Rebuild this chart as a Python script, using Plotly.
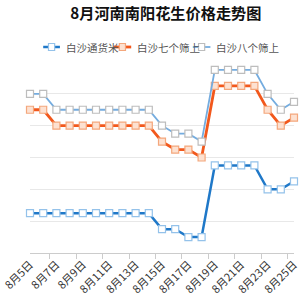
import plotly.graph_objects as go

dates = [f"8月{d}日" for d in range(5, 26)]

tonghuo = [3.85]*10 + [3.75, 3.75, 3.7, 3.7, 4.15, 4.15, 4.15, 4.15, 4.0, 4.0, 4.05]
qige = [4.5, 4.5] + [4.4]*8 + [4.3, 4.25, 4.25, 4.2, 4.65, 4.65, 4.65, 4.65, 4.5, 4.4, 4.45]
bage = [4.6, 4.6] + [4.5]*8 + [4.4, 4.35, 4.35, 4.3, 4.75, 4.75, 4.75, 4.75, 4.6, 4.5, 4.55]

names = ["白沙通货米", "白沙七个筛上", "白沙八个筛上"]
values = [tonghuo, qige, bage]
line_colors = ["#1f78c8", "#f2581c", "#74acdf"]
line_widths = [2.5, 2.8, 1.8]
marker_lines = ["#94c2ea", "#f4a77c", "#bdbdbd"]
marker_fills = ["#ffffff", "#fde1d1", "#ffffff"]

FONT = "Noto Sans CJK SC"
W, H = 300, 300
T, B = 62, 47
PH = H - T - B

fig = go.Figure()
for name, vals, lc, lw, mc, mf in zip(names, values, line_colors, line_widths, marker_lines, marker_fills):
    fig.add_trace(go.Scatter(
        x=dates, y=vals, name=name, mode="lines+markers",
        line=dict(color=lc, width=lw),
        marker=dict(symbol="square", size=7, color=mf,
                    line=dict(color=mc, width=1.2)),
        cliponaxis=False, showlegend=False,
    ))

# legend drawn like the original (short line + hollow square + label)
leg_y_px = 47
leg_items = [(15, 34, 39), (95, 115, 119), (185, 205, 209)]  # line x0, line x1, text x (px)
shapes = []
annotations = []
def py(px):
    return (H - B - px) / PH
for (lx0, lx1, tx), name, lc, lw, mc, mf in zip(leg_items, names, line_colors, line_widths, marker_lines, marker_fills):
    shapes.append(dict(type="line", xref="paper", yref="paper",
                       x0=lx0 / W, x1=lx1 / W, y0=py(leg_y_px), y1=py(leg_y_px),
                       line=dict(color=lc, width=lw)))
    cx = (lx0 + lx1) / 2
    shapes.append(dict(type="rect", xref="paper", yref="paper",
                       x0=(cx - 3.5) / W, x1=(cx + 3.5) / W,
                       y0=py(leg_y_px + 3.5), y1=py(leg_y_px - 3.5),
                       fillcolor=mf, line=dict(color=mc, width=1.2)))
    annotations.append(dict(xref="paper", yref="paper", x=tx / W, y=py(leg_y_px + 0.5),
                            xanchor="left", yanchor="middle", showarrow=False, text=name,
                            font=dict(size=10.5, color="#555555", family=FONT)))

fig.update_layout(
    width=W, height=H,
    margin=dict(l=0, r=0, t=T, b=B),
    paper_bgcolor="white", plot_bgcolor="white",
    font=dict(family=FONT, color="#333333"),
    title=dict(text="<b>8月河南南阳花生价格走势图</b>", x=0.553, xanchor="center",
               y=0.953, yanchor="middle", font=dict(size=15.2, color="#111111", family=FONT)),
    showlegend=False,
    shapes=shapes,
    annotations=annotations,
)
fig.update_xaxes(
    type="category", range=[0, 20], showgrid=False,
    showline=True, linecolor="#cccccc", linewidth=1,
    ticks="outside", ticklen=5, tickcolor="#cccccc", tickson="boundaries",
    dtick=2, tick0=0, tickangle=-45,
    tickfont=dict(size=11, color="#333333", family=FONT),
    zeroline=False,
)
fig.update_yaxes(
    range=[3.6, 4.8], dtick=0.2, showgrid=True, gridcolor="#e8e8e8", gridwidth=1,
    showticklabels=False, zeroline=False, showline=False,
)

fig.write_html("out.html")
